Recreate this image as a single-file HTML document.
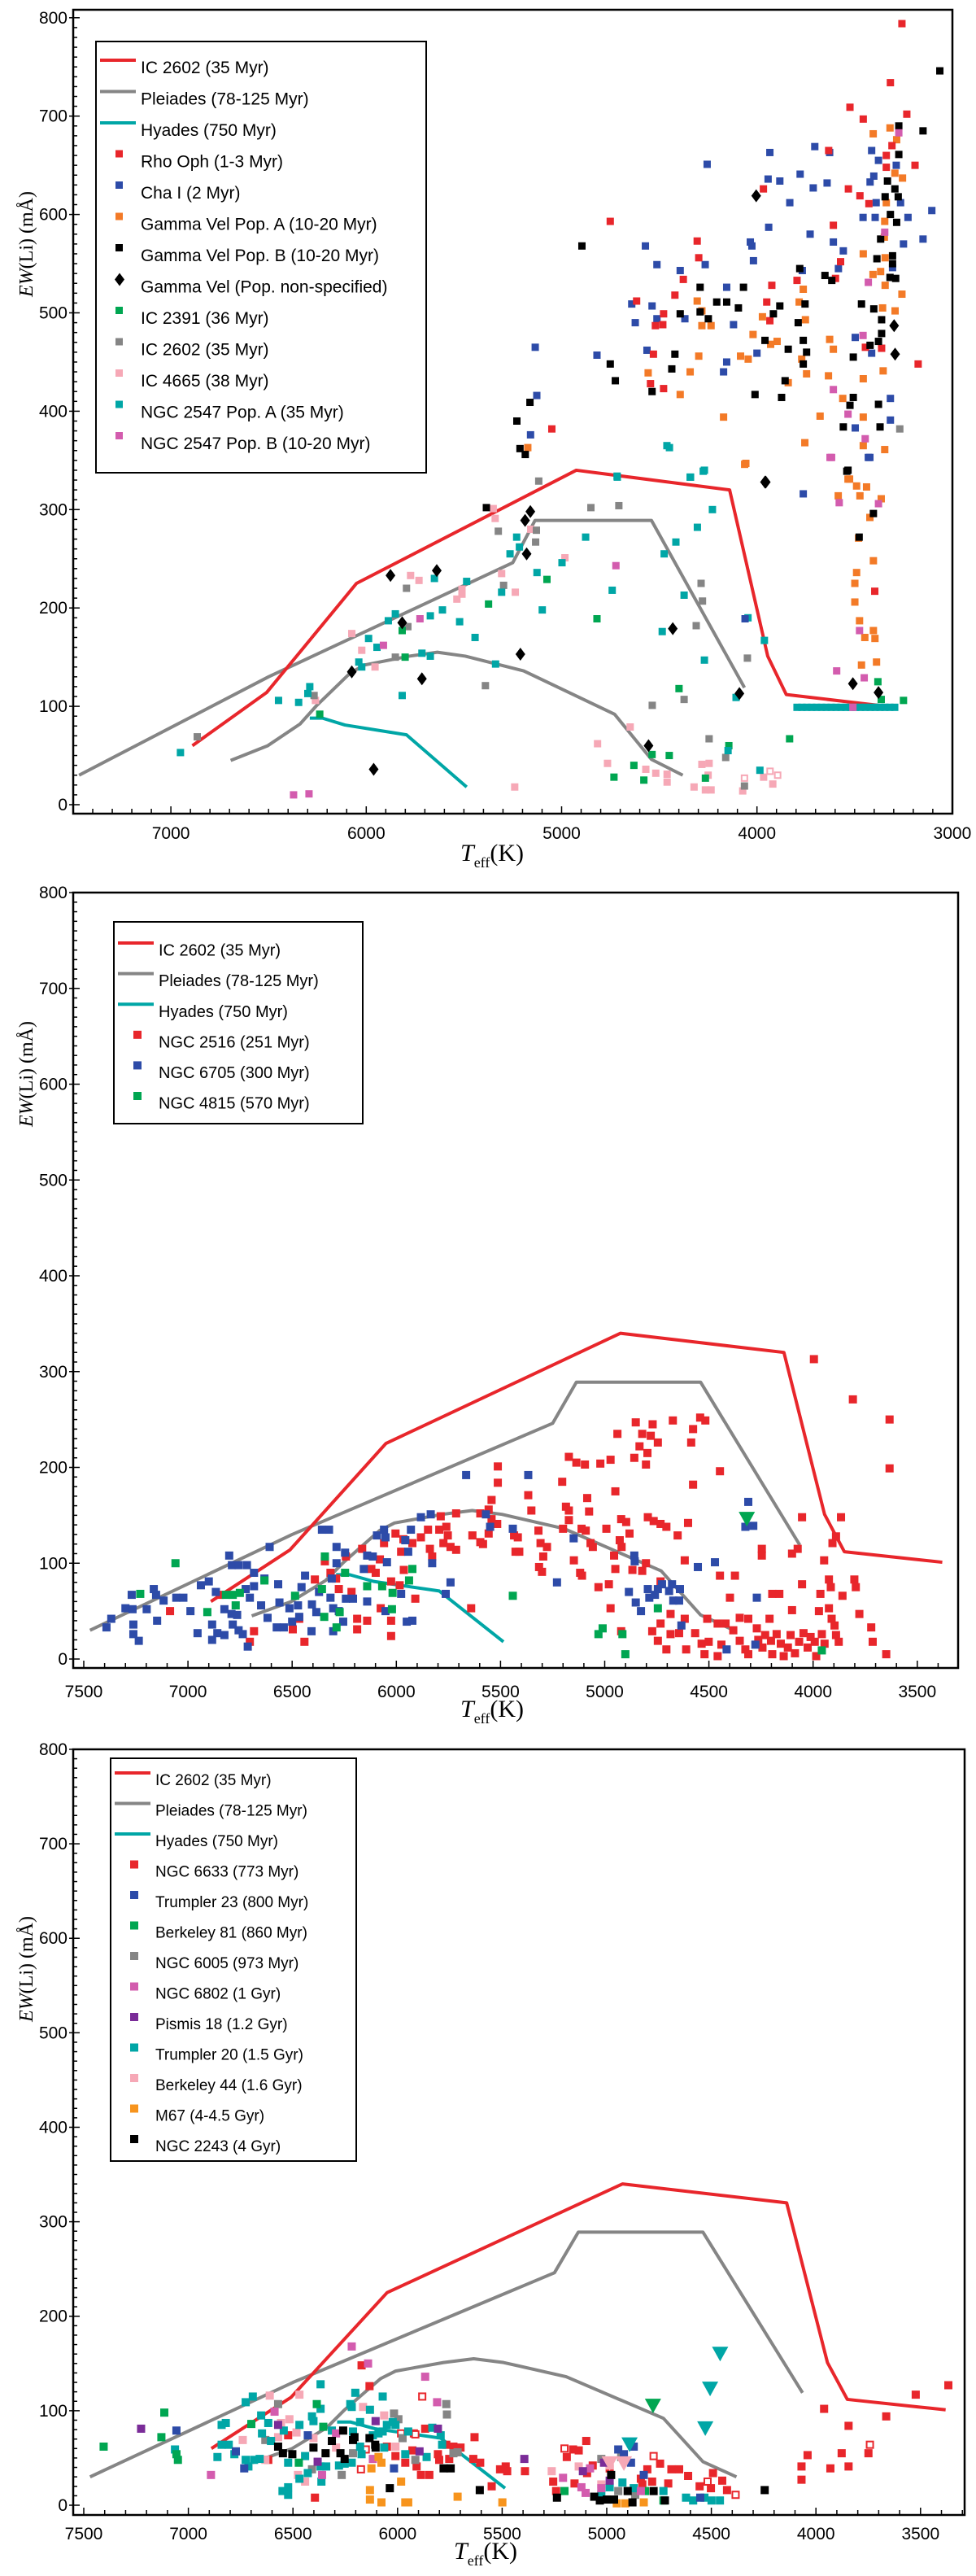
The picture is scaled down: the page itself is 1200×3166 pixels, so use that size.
<!DOCTYPE html>
<html><head><meta charset="utf-8"><title>EW(Li) vs Teff</title>
<style>
html,body{margin:0;padding:0;background:#fff;}
svg{display:block;}
text{font-family:"Liberation Sans",sans-serif;fill:#000;}
.serif{font-family:"Liberation Serif",serif;}
</style></head>
<body>
<svg id="fig" width="1200" height="3166" viewBox="0 0 1200 3166" xmlns="http://www.w3.org/2000/svg"></svg>
<script>
// ---------- curves (Teff, EW) ----------
const curveIC2602 = [[6890,60],[6510,114],[6050,225],[4925,340],[4140,320],[3945,151],[3850,112],[3510,104],[3380,101]];
const curvePleiadesUpper = [[7470,30],[6500,130],[5250,246],[5136,289],[4540,289],[4064,119]];
const curvePleiadesLower = [[6694,45],[6504,60],[6339,82],[6253,101],[6081,134],[6009,142],[5780,151],[5636,155],[5493,151],[5194,136],[4729,92],[4540,46],[4380,30]];
const curveHyades = [[6289,88],[6224,88],[6109,81],[5794,71],[5486,18]];

// ---------- panel 1 ----------
const p1Rho = [[3258,794],[3317,734],[3524,709],[3456,697],[3233,702],[3309,670],[3633,665],[3338,660],[3338,648],[3191,650],[3967,626],[3532,626],[3473,619],[3427,611],[4751,593],[3609,589],[4306,573],[4298,556],[4377,534],[3572,552],[3924,528],[3795,533],[4616,512],[4420,518],[4478,499],[4520,487],[4482,488],[3950,511],[3934,492],[3598,535],[4530,458],[3175,448],[3362,464],[4545,428],[4478,423],[5050,382],[3445,465],[3397,217]];
const p1Cha = [[4255,651],[3934,663],[3704,669],[3628,663],[3413,665],[3378,655],[3287,650],[3943,636],[3883,634],[3779,641],[3712,627],[3641,632],[3421,633],[3402,639],[3832,612],[3390,612],[3265,612],[3457,597],[3395,597],[3227,597],[3105,604],[3940,587],[3728,580],[3609,572],[3558,563],[4034,572],[4026,568],[4018,553],[3250,570],[3150,575],[4571,568],[4512,549],[4265,549],[4393,543],[3583,545],[4155,526],[3768,543],[3306,546],[4641,509],[4537,507],[4512,494],[4369,494],[4623,490],[4120,488],[3497,475],[3413,459],[4000,459],[5135,465],[4819,457],[4563,462],[4155,450],[4171,440],[3317,413],[5127,416],[5159,376],[3497,383],[3317,391],[3430,353],[3763,316],[4061,189],[3422,353]];
const p1GvA = [[3319,688],[3405,682],[3285,676],[3294,642],[3255,637],[3338,612],[3346,593],[3348,577],[3344,556],[3456,560],[3406,539],[3367,542],[3344,528],[3258,519],[3763,524],[3784,511],[3752,493],[3357,505],[3293,502],[4306,512],[4282,502],[4235,487],[4282,487],[3972,496],[4020,478],[3897,471],[3930,468],[4298,456],[4342,440],[4084,456],[4045,453],[4557,439],[4393,417],[3628,473],[3609,463],[3771,453],[3746,438],[3634,436],[3456,433],[3354,441],[3840,429],[3561,413],[3677,395],[3456,394],[4171,394],[3755,368],[3456,365],[3346,361],[4063,346],[3534,331],[5173,363],[4057,347],[3526,331],[3490,324],[3439,323],[3584,314],[3473,314],[3364,311],[3422,292],[3480,271],[3404,248],[3490,236],[3499,225],[3499,206],[3475,187],[3404,177],[3448,170],[3396,169],[3465,142],[3388,145]];
const p1GvB = [[4896,568],[4291,526],[4069,526],[4206,511],[4155,511],[4095,505],[4393,499],[4291,501],[4249,494],[3883,507],[3916,499],[3754,509],[3789,490],[3781,545],[3652,538],[3617,533],[3465,509],[3402,504],[3362,493],[3362,479],[3378,471],[3421,467],[3386,555],[3306,558],[3306,550],[3319,536],[3290,535],[3367,575],[3317,600],[3285,592],[3344,618],[3277,618],[3332,634],[3294,626],[3274,661],[3274,690],[3150,685],[3064,746],[3959,472],[3840,463],[3763,472],[3746,460],[3763,448],[3507,455],[4420,458],[4751,448],[4436,443],[4725,431],[4537,420],[3856,431],[4010,417],[3874,414],[3507,414],[3524,406],[3378,407],[3558,384],[3370,384],[5229,390],[5162,409],[5213,362],[5186,356],[3540,339],[5385,302],[3534,340],[3404,296],[3477,272]];
const p1GvN = [[4004,619],[3298,487],[3293,458],[3959,328],[5876,233],[5639,238],[6074,135],[5715,128],[5962,36],[5816,185],[5160,298],[5187,289],[5179,255],[5211,153],[4431,179],[3955,328],[4555,60],[4090,113],[3509,123],[3378,114]];
const p1IC2391 = [[6238,92],[5816,177],[5801,150],[5374,204],[5075,229],[4819,189],[4399,118],[4537,51],[4449,50],[4630,40],[4732,28],[4579,25],[4264,27],[4144,60],[3833,67],[3381,125],[3364,107],[3250,106]];
const p1IC2602 = [[6865,69],[5794,220],[5787,181],[5851,150],[5390,121],[5297,223],[5324,278],[6267,111],[5117,329],[4850,302],[4707,304],[5129,279],[5133,267],[4286,225],[4279,207],[4311,182],[4049,149],[4373,107],[4536,101],[4245,67],[4160,48],[4064,19],[3269,382]];
const p1IC4665 = [[6074,174],[6023,157],[5955,140],[6260,106],[5773,233],[5730,228],[5536,209],[5510,219],[5510,214],[5307,235],[5340,291],[5350,301],[5158,280],[4983,251],[5237,216],[4816,62],[4649,79],[4765,42],[4569,36],[4518,32],[4460,31],[4460,23],[4322,18],[4282,41],[4245,42],[4250,30],[4264,15],[4235,15],[4073,14],[3966,28],[3919,21],[5240,18]];
const p1IC4665Open = [[4064,27],[3933,34],[3894,30]];
const p1N2547A = [[6951,53],[6449,106],[6346,104],[6289,120],[6299,113],[6038,145],[6023,140],[5988,169],[5945,160],[5887,187],[5851,194],[5816,111],[5715,154],[5672,151],[5672,192],[5651,230],[5610,198],[5522,186],[5486,227],[5443,170],[5338,143],[5307,216],[5264,255],[4715,333],[4340,333],[4269,340],[4228,300],[4305,282],[4415,267],[4475,255],[4877,272],[4998,246],[5230,272],[5216,262],[5126,236],[5099,198],[4741,218],[4373,213],[4485,176],[4269,147],[4046,190],[3962,167],[4107,109],[4148,55],[3985,35],[4461,365],[4448,363],[4716,334],[4342,333],[4275,339]];
const p1N2547ABand = [[3795,99],[3770,99],[3745,99],[3720,99],[3695,99],[3670,99],[3645,99],[3620,99],[3595,99],[3570,99],[3545,99],[3520,99],[3495,99],[3470,99],[3445,99],[3420,99],[3395,99],[3370,99],[3345,99],[3320,99],[3295,99]];
const p1N2547B = [[5912,162],[5725,189],[6372,10],[6293,11],[4722,243],[3618,353],[3579,307],[3378,306],[3475,177],[3592,136],[3451,129],[3509,99],[3274,683],[3346,582],[3430,531],[3457,477],[3609,422],[3534,397],[3446,372],[3626,353]];

// ---------- panel 2 ----------
const p2N2516 = [[7086,50],[6848,67],[6703,18],[6683,29],[6497,31],[6441,18],[6391,83],[6466,42],[6343,102],[6316,90],[6289,84],[6276,73],[6242,107],[6215,70],[6188,42],[6188,31],[6140,40],[6164,115],[6120,94],[6099,90],[6079,104],[6075,53],[6059,121],[6025,81],[6025,40],[6025,24],[6004,131],[5984,77],[5964,93],[5977,112],[5966,125],[5923,121],[5909,63],[5882,127],[5848,135],[5828,107],[5839,115],[5794,135],[5787,149],[5774,121],[5760,138],[5753,129],[5740,117],[5713,152],[5713,114],[5641,53],[5635,129],[5597,152],[5597,122],[5584,120],[5557,156],[5557,131],[5543,146],[5516,141],[5513,201],[5513,184],[5543,166],[5435,129],[5428,112],
[3996,313],[3809,271],[3633,250],[3633,199],[4851,247],[4770,245],[4673,249],[4576,240],[4542,252],[4517,249],[4939,235],[4820,235],[4779,233],[4745,226],[4585,226],[4833,222],[4795,215],[4858,210],[4802,203],[5172,211],[5136,205],[5095,203],[5021,204],[4972,208],[4447,196],[5204,185],[4576,182],[5367,171],[4949,175],[5084,168],[5352,155],[5186,159],[5172,155],[5075,154],[5172,145],[4921,146],[4897,143],[4793,148],[4765,144],[4732,141],[4704,138],[4600,142],[4650,129],[5318,134],[5200,136],[5111,136],[5091,134],[4992,136],[4881,131],[5417,127],[5308,121],[5277,117],[5295,107],[5410,112],[5068,121],[5057,117],[4928,124],[4919,117],[4955,108],[5148,103],[4802,100],[4616,103],[4867,93],[4820,92],[4949,94],[5315,96],[5301,91],[5118,90],[5109,87],[4447,87],[4375,87],[5030,75],[4980,78],[4053,148],[3866,148],[3890,128],[3907,121],[4246,115],[4246,108],[4101,110],[4074,115],[3947,103],[3924,83],[3915,75],[3802,83],[3795,75],[4053,78],[4196,68],[4162,68],[4399,64],[3965,68],[3859,66],[4972,53],[4732,81],[4684,47],[4616,42],[4732,37],[4772,29],[4745,19],[4704,10],[4684,26],[4643,27],[4609,10],[4566,27],[4535,16],[4521,5],[4508,42],[4501,18],[4458,37],[4440,15],[4458,3],[4420,37],[4383,30],[4352,43],[4311,42],[4352,19],[4325,10],[4311,5],[4270,32],[4263,20],[4243,12],[4230,25],[4209,42],[4202,19],[4196,5],[4175,26],[4155,16],[4141,3],[4121,12],[4108,25],[4101,51],[4087,6],[4067,18],[4046,27],[4026,12],[4012,23],[3992,18],[3985,3],[3972,50],[3958,26],[3945,16],[3924,53],[3911,42],[3897,35],[3890,25],[3877,18],[3778,47],[3721,33],[3714,18],[3649,5],[4921,29]];
const p2N6705 = [[7391,33],[7368,42],[7300,53],[7266,52],[7270,67],[7262,36],[7262,26],[7236,19],[7198,52],[7164,73],[7153,67],[7148,40],[7117,61],[7056,64],[7022,64],[6988,50],[6954,27],[6938,77],[6900,81],[6884,36],[6884,20],[6866,70],[6859,27],[6825,52],[6825,25],[6802,108],[6789,98],[6757,98],[6791,47],[6764,46],[6785,36],[6757,30],[6737,26],[6717,98],[6723,73],[6703,64],[6713,13],[6683,90],[6683,76],[6649,56],[6633,84],[6618,43],[6608,117],[6574,33],[6567,78],[6561,59],[6540,33],[6513,53],[6500,39],[6472,56],[6455,75],[6466,44],[6438,87],[6407,29],[6405,57],[6371,70],[6384,49],[6357,135],[6323,135],[6316,64],[6310,84],[6287,100],[6287,117],[6246,111],[6303,53],[6276,50],[6255,39],[6303,29],[6242,63],[6208,63],[6156,94],[6140,60],[6140,108],[6113,107],[6093,129],[6045,101],[6059,135],[6052,127],[6052,50],[5977,68],[5950,39],[5923,40],[5957,124],[5943,112],[5930,135],[5882,148],[5835,151],[5828,100],[5763,68],[5740,80],[5665,192],[5570,151],[5550,138],[5441,136],
[5367,192],[5149,126],[5229,80],[4858,108],[4856,102],[4884,70],[4851,59],[4826,50],[4793,73],[4786,64],[4759,67],[4745,73],[4725,78],[4691,71],[4677,78],[4671,61],[4643,61],[4639,73],[4632,35],[4553,96],[4471,101],[4311,164],[4325,138],[4287,139],[4270,64],[4415,10],[4277,15]];
const p2N4815 = [[7060,100],[7229,68],[6907,49],[6818,67],[6785,67],[6751,69],[6771,56],[6633,82],[6486,66],[6343,107],[6357,73],[6346,44],[6272,49],[6287,33],[6246,90],[6140,76],[6068,76],[6018,69],[6021,52],[5939,82],[5923,94],[5441,66],[4745,53],[5030,26],[5010,32],[4915,26],[4901,5],[3958,9]];
const p2N4815Tri = [[4318,146]];

// ---------- panel 3 ----------
const p3N6633 = [[6395,8],[6172,148],[6134,126],[6523,74],[6618,48],[6051,62],[6010,52],[5963,45],[5929,58],[5922,76],[5909,41],[5888,32],[5868,81],[5848,32],[5807,54],[5801,48],[5767,64],[5753,49],[5733,62],[5699,61],[5632,72],[5638,49],[5605,45],[5550,20],[5510,38],[5483,41],[5476,36],
[3367,127],[3523,117],[3664,94],[3961,102],[3844,84],[4040,53],[3877,55],[3749,55],[3931,39],[3844,41],[4069,41],[4069,27],[5391,36],[5098,68],[5191,51],[5161,59],[5134,58],[5256,25],[5242,15],[5154,23],[5094,34],[5067,42],[4986,39],[4837,28],[4806,38],[4783,25],[4745,44],[4706,23],[4691,38],[4654,38],[4611,31],[4556,20],[4502,18],[4492,34],[4448,26],[4425,16],[4830,22]];
const p3N6633Open = [[5882,115],[6175,38],[6152,59],[5983,76],[5915,75],[5202,60],[4776,52],[3742,64],[4518,25],[4384,11]];
const p3Tr23 = [[7057,79],[6773,57],[6733,39],[6429,74],[6017,39],[4945,59],[4918,54],[4871,62],[4884,45],[4823,32],[4553,8]];
const p3Be81 = [[7405,62],[7115,98],[7129,72],[7057,54],[7050,48],[6699,86],[6386,107],[6355,83],[6472,45],[5202,15],[4817,15],[4729,5]];
const p3Be81Tri = [[4779,105]];
const p3N6005 = [[6571,107],[6632,69],[6409,38],[6267,32],[6017,97],[5996,91],[5976,71],[5767,107],[5764,96],[5915,48],[5733,55],[5713,56],[6213,55],[5026,49],[4931,51],[4945,15],[4864,11]];
const p3N6802 = [[6892,32],[6588,99],[6219,168],[6141,150],[5868,136],[5811,109],[6361,32],[6294,76],[6118,49],[5209,29],[5080,39],[5121,19],[5101,13],[4837,15],[5026,18]];
const p3Pi18 = [[7226,81],[6571,85],[6382,46],[6105,89],[5895,57],[5807,81],[5394,49],[5114,36],[5013,45],[4986,26]];
const p3Tr20 = [[7064,59],[6841,85],[6821,87],[6861,51],[6841,64],[6807,64],[6780,54],[6726,109],[6692,115],[6726,48],[6713,41],[6686,48],[6659,49],[6652,95],[6648,76],[6618,87],[6605,68],[6544,79],[6523,45],[6469,85],[6469,28],[6442,52],[6409,94],[6402,89],[6368,128],[6368,102],[6368,41],[6364,25],[6341,41],[6314,79],[6280,42],[6253,44],[6219,45],[6213,78],[6226,107],[6219,104],[6202,119],[6179,88],[6179,62],[6132,101],[6118,74],[6091,76],[6071,78],[6071,115],[6051,85],[6023,88],[5963,54],[5949,78],[5861,51],[5834,82],[5794,74],[5787,64],[6523,19],[6550,15],[6523,11],[6429,34],[6172,54],[6064,61],[6010,85],[4925,24],[4986,19],[4871,18],[4729,15],[4621,8],[4587,5],[4533,8],[4499,5],[4459,5],[5026,11]];
const p3Tr20Tri = [[4458,160],[4506,123],[4529,81],[4891,64]];
const p3Be44 = [[6740,69],[6611,116],[6469,117],[6557,87],[6517,91],[6483,77],[6571,72],[6402,71],[6632,48],[6476,32],[6442,25],[6165,104],[6064,95],[6010,62],[6294,61],[5263,36],[5134,41],[5026,22],[4986,42]];
const p3Be44Tri = [[4986,44],[4918,44]];
const p3M67 = [[6132,16],[6132,6],[6077,3],[5983,25],[5963,3],[5949,3],[5713,9],[5499,3],[6091,51],[6077,45],[6125,39],[4952,2],[4911,2],[4823,3]];
const p3N2243 = [[6571,62],[6548,55],[6503,54],[6402,61],[6344,55],[6314,68],[6260,79],[6273,55],[6253,49],[6213,69],[6206,72],[6134,71],[6105,61],[6107,64],[6037,18],[5780,39],[5746,39],[5607,16],[5238,8],[5060,9],[5033,5],[5000,6],[4965,6],[4979,32],[4900,15],[4877,3],[4776,15],[4722,5],[4245,16]];

// ---------- tick labels ----------
const yTickLabels = [0,100,200,300,400,500,600,700,800];
const p1XTickLabels = [7000,6000,5000,4000,3000];
const p23XTickLabels = [7500,7000,6500,6000,5500,5000,4500,4000,3500];

const C = {red:'#e8262b',gray:'#858585',teal:'#00a6a6',blue:'#2d4ba8',orange:'#f37a27',black:'#000000',green:'#00a651',pink:'#f6a8b6',mag:'#d35cae',purple:'#7a2c98',m67:'#f7941d'};
const NS='http://www.w3.org/2000/svg';
const svg=document.getElementById('fig');
function el(tag,attrs,parent){const e=document.createElementNS(NS,tag);for(const k in attrs)e.setAttribute(k,attrs[k]);(parent||svg).appendChild(e);return e;}

function makePanel(P){
  const g=el('g',{});
  
  
  const X=t=>P.x0+(7500-t)*P.kx;
  const Y=v=>P.y0-v*P.ky;
  const fr=el('rect',{x:P.L,y:P.T,width:P.R-P.L,height:P.B-P.T,fill:'none',stroke:'#000','stroke-width':2.5},g);
  
  
  for(let t=7500;t>=P.xMinTick;t-=100){
    const x=X(t); if(x<P.L-0.5||x>P.R+0.5) continue;
    const major=(t%P.xMajor===0);
    const tk=el('line',{x1:x,x2:x,y1:P.B,y2:P.B-(major?9:6),stroke:'#000','stroke-width':1.5},g);
    
    
  }
  P.xLabels.forEach(t=>{
    const tx=el('text',{x:X(t),y:P.xLabY,'font-size':P.tickFs,'text-anchor':'middle'},g);
    
    
    tx.textContent=t;
  });
  for(let v=0;v<=800;v+=10){
    const y=Y(v); const major=(v%100===0);
    const tk=el('line',{x1:P.L-(major?5:0),x2:P.L+(major?8:5),y1:y,y2:y,stroke:'#000','stroke-width':1.5},g);
    
    
  }
  yTickLabels.forEach(v=>{
    const tx=el('text',{x:P.L-7,y:Y(v)+7,'font-size':P.tickFs,'text-anchor':'end'},g);
    
    
    tx.textContent=v;
  });
  const yt=el('text',{x:0,y:0,'font-size':24,'text-anchor':'middle',class:'serif',transform:`translate(${P.yTitleX},${P.yTitleY}) rotate(-90)`},g);
  
  
  yt.innerHTML='<tspan font-style="italic">EW</tspan>(Li) (mÅ)';
  const xt=el('text',{x:P.xTitleX,y:P.xTitleY,'font-size':30,class:'serif'},g);
  
  
  xt.innerHTML='<tspan font-style="italic">T</tspan><tspan font-size="18" dy="8">eff</tspan><tspan dy="-8">(K)</tspan>';
  const line=(pts,col,nm)=>{
    const pl=el('polyline',{points:pts.map(p=>X(p[0])+','+Y(p[1])).join(' '),fill:'none',stroke:col,'stroke-width':4,'stroke-linejoin':'round'},g);
    
    
  };
  line(curvePleiadesUpper,C.gray,'pleiades-upper-curve');
  line(curvePleiadesLower,C.gray,'pleiades-lower-curve');
  line(curveHyades,C.teal,'hyades-curve');
  line(curveIC2602,C.red,'ic2602-curve');
  const s=P.ms;
  P.series.forEach(S=>{
    S.data.forEach(p=>{
      const x=X(p[0]),y=Y(p[1]); let m;
      if(S.shape==='diamond'){
        m=el('polygon',{points:`${x},${y-8} ${x+6},${y} ${x},${y+8} ${x-6},${y}`,fill:S.color},g);
      }else if(S.shape==='tri'){
        m=el('polygon',{points:`${x-10},${y-9} ${x+10},${y-9} ${x},${y+9}`,fill:S.color},g);
      }else if(S.shape==='open'){
        m=el('rect',{x:x-s/2+1,y:y-s/2+1,width:s-2,height:s-2,fill:'#fff',stroke:S.color,'stroke-width':2},g);
      }else{
        m=el('rect',{x:x-s/2,y:y-s/2,width:s,height:s,fill:S.color},g);
      }
      
      
    });
  });
  const Lg=P.legend;
  const box=el('rect',{x:Lg.x,y:Lg.y,width:Lg.w,height:Lg.h,fill:'#fff',stroke:'#000','stroke-width':2},g);
  
  
  Lg.items.forEach((it,i)=>{
    const cy=Lg.first+i*Lg.step;
    let m;
    if(it.kind==='line'){
      m=el('line',{x1:Lg.x+5,x2:Lg.x+49,y1:cy-8,y2:cy-8,stroke:it.color,'stroke-width':4},g);
    }else if(it.kind==='diamond'){
      const mx=Lg.x+29;
      m=el('polygon',{points:`${mx},${cy-16} ${mx+6},${cy-8} ${mx},${cy} ${mx-6},${cy-8}`,fill:it.color},g);
    }else{
      m=el('rect',{x:Lg.x+24,y:cy-13,width:s,height:s,fill:it.color},g);
    }
    
    
    const tx=el('text',{x:Lg.x+55,y:cy+Lg.fs*0.38,'font-size':Lg.fs},g);
    
    
    tx.textContent=it.label;
  });
}

makePanel({name:'panel-young-clusters',L:90,R:1171,T:12,B:1000,x0:90,kx:0.2402,y0:989,ky:1.209,xMajor:1000,xMinTick:3000,
  xLabels:p1XTickLabels,xLabY:1031,tickFs:21,yTitleX:40,yTitleY:300,xTitleX:566,xTitleY:1058,ms:9,
  series:[
    {data:p1N2547ABand,color:C.teal,mark:'ngc2547a-point'},
    {data:p1IC4665,color:C.pink,mark:'ic4665-point'},
    {data:p1IC4665Open,color:C.pink,shape:'open',mark:'ic4665-open-point'},
    {data:p1IC2602,color:C.gray,mark:'ic2602-point'},
    {data:p1IC2391,color:C.green,mark:'ic2391-point'},
    {data:p1N2547A,color:C.teal,mark:'ngc2547a-point'},
    {data:p1GvA,color:C.orange,mark:'gammavel-a-point'},
    {data:p1Cha,color:C.blue,mark:'cha1-point'},
    {data:p1Rho,color:C.red,mark:'rhooph-point'},
    {data:p1GvB,color:C.black,mark:'gammavel-b-point'},
    {data:p1N2547B,color:C.mag,mark:'ngc2547b-point'},
    {data:p1GvN,color:C.black,shape:'diamond',mark:'gammavel-ns-point'}],
  legend:{x:118,y:51,w:406,h:530,first:82,step:38.5,fs:21,items:[
    {kind:'line',color:C.red,label:'IC 2602 (35 Myr)'},
    {kind:'line',color:C.gray,label:'Pleiades (78-125 Myr)'},
    {kind:'line',color:C.teal,label:'Hyades (750 Myr)'},
    {color:C.red,label:'Rho Oph (1-3 Myr)'},
    {color:C.blue,label:'Cha I (2 Myr)'},
    {color:C.orange,label:'Gamma Vel Pop. A (10-20 Myr)'},
    {color:C.black,label:'Gamma Vel Pop. B (10-20 Myr)'},
    {kind:'diamond',color:C.black,label:'Gamma Vel (Pop. non-specified)'},
    {color:C.green,label:'IC 2391 (36 Myr)'},
    {color:C.gray,label:'IC 2602 (35 Myr)'},
    {color:C.pink,label:'IC 4665 (38 Myr)'},
    {color:C.teal,label:'NGC 2547 Pop. A (35 Myr)'},
    {color:C.mag,label:'NGC 2547 Pop. B (10-20 Myr)'}]}
});

makePanel({name:'panel-intermediate-clusters',L:90,R:1178,T:1097,B:2050,x0:103,kx:0.2562,y0:2039,ky:1.1775,xMajor:500,xMinTick:3300,
  xLabels:p23XTickLabels,xLabY:2086,tickFs:21,yTitleX:40,yTitleY:1320,xTitleX:566,xTitleY:2110,ms:10,
  series:[
    {data:p2N2516,color:C.red,mark:'ngc2516-point'},
    {data:p2N6705,color:C.blue,mark:'ngc6705-point'},
    {data:p2N4815,color:C.green,mark:'ngc4815-point'},
    {data:p2N4815Tri,color:C.green,shape:'tri',mark:'ngc4815-upper-limit'}],
  legend:{x:140,y:1133,w:306,h:248,first:1167,step:37.6,fs:20,items:[
    {kind:'line',color:C.red,label:'IC 2602 (35 Myr)'},
    {kind:'line',color:C.gray,label:'Pleiades (78-125 Myr)'},
    {kind:'line',color:C.teal,label:'Hyades (750 Myr)'},
    {color:C.red,label:'NGC 2516 (251 Myr)'},
    {color:C.blue,label:'NGC 6705 (300 Myr)'},
    {color:C.green,label:'NGC 4815 (570 Myr)'}]}
});

makePanel({name:'panel-old-clusters',L:90,R:1186,T:2150,B:3091,x0:103,kx:0.2572,y0:3079,ky:1.1613,xMajor:500,xMinTick:3300,
  xLabels:p23XTickLabels,xLabY:3121,tickFs:21,yTitleX:40,yTitleY:2420,xTitleX:558,xTitleY:3145,ms:10,
  series:[
    {data:p3N6633,color:C.red,mark:'ngc6633-point'},
    {data:p3N6633Open,color:C.red,shape:'open',mark:'ngc6633-open-point'},
    {data:p3Be44,color:C.pink,mark:'berkeley44-point'},
    {data:p3N6005,color:C.gray,mark:'ngc6005-point'},
    {data:p3Tr20,color:C.teal,mark:'trumpler20-point'},
    {data:p3Tr23,color:C.blue,mark:'trumpler23-point'},
    {data:p3Be81,color:C.green,mark:'berkeley81-point'},
    {data:p3N6802,color:C.mag,mark:'ngc6802-point'},
    {data:p3Pi18,color:C.purple,mark:'pismis18-point'},
    {data:p3M67,color:C.m67,mark:'m67-point'},
    {data:p3N2243,color:C.black,mark:'ngc2243-point'},
    {data:p3Tr20Tri,color:C.teal,shape:'tri',mark:'trumpler20-upper-limit'},
    {data:p3Be81Tri,color:C.green,shape:'tri',mark:'berkeley81-upper-limit'},
    {data:p3Be44Tri,color:C.pink,shape:'tri',mark:'berkeley44-upper-limit'}],
  legend:{x:136,y:2161,w:302,h:495,first:2187,step:37.5,fs:19,items:[
    {kind:'line',color:C.red,label:'IC 2602 (35 Myr)'},
    {kind:'line',color:C.gray,label:'Pleiades (78-125 Myr)'},
    {kind:'line',color:C.teal,label:'Hyades (750 Myr)'},
    {color:C.red,label:'NGC 6633 (773 Myr)'},
    {color:C.blue,label:'Trumpler 23 (800 Myr)'},
    {color:C.green,label:'Berkeley 81 (860 Myr)'},
    {color:C.gray,label:'NGC 6005 (973 Myr)'},
    {color:C.mag,label:'NGC 6802 (1 Gyr)'},
    {color:C.purple,label:'Pismis 18 (1.2 Gyr)'},
    {color:C.teal,label:'Trumpler 20 (1.5 Gyr)'},
    {color:C.pink,label:'Berkeley 44 (1.6 Gyr)'},
    {color:C.m67,label:'M67 (4-4.5 Gyr)'},
    {color:C.black,label:'NGC 2243 (4 Gyr)'}]}
});
</script>
</body></html>
